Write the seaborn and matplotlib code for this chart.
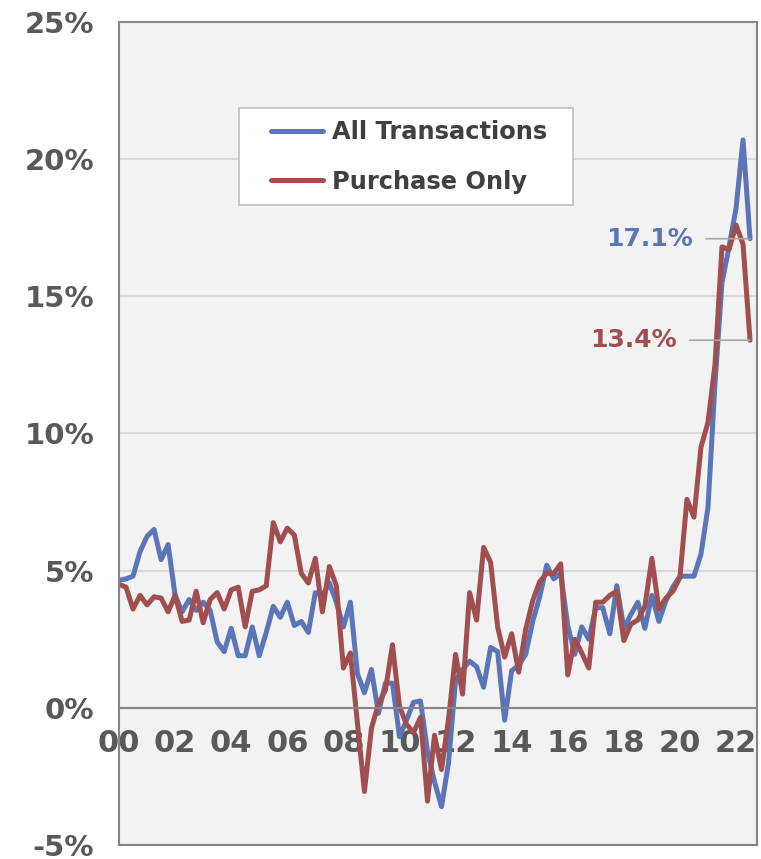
import matplotlib
matplotlib.use("Agg")
import matplotlib.pyplot as plt
from matplotlib.patches import Rectangle
import seaborn as sns
import pandas as pd
import numpy as np

# quarterly series, 2000 Q1 .. 2022 Q3 (percent change over 4 quarters)
start_year = 2000
all_transactions = [
    4.65, 4.7, 4.8, 5.7, 6.25, 6.5, 5.4, 5.95, 4.1, 3.5, 3.95, 3.55, 3.85, 3.55, 2.4, 2.05,
    2.9, 1.9, 1.9, 2.95, 1.9, 2.75, 3.7, 3.3, 3.85, 3.0, 3.15, 2.75, 4.2, 4.1, 4.55, 3.85,
    2.95, 3.85, 1.25, 0.55, 1.4, -0.2, 0.9, 0.9, -1.05, -0.45, 0.2, 0.25, -1.6, -2.7, -3.6, -2.0,
    1.0, 1.4, 1.7, 1.5, 0.75, 2.2, 2.05, -0.45, 1.35, 1.55, 1.95, 3.15, 4.05, 5.2, 4.7, 4.9,
    3.0, 1.95, 2.95, 2.5, 3.65, 3.65, 2.7, 4.45, 2.9, 3.4, 3.85, 2.9, 4.1, 3.15, 3.9, 4.4,
    4.8, 4.8, 4.8, 5.6, 7.3, 11.8, 15.5, 16.8, 18.2, 20.7, 17.1,
]
purchase_only = [
    4.5, 4.4, 3.6, 4.1, 3.75, 4.05, 4.0, 3.5, 4.1, 3.15, 3.2, 4.25, 3.1, 3.95, 4.2, 3.6,
    4.3, 4.4, 2.95, 4.25, 4.3, 4.45, 6.75, 6.05, 6.55, 6.3, 4.9, 4.55, 5.45, 3.5, 5.15, 4.45,
    1.45, 2.0, -0.55, -3.05, -0.75, 0.15, 0.65, 2.3, 0.05, -0.6, -0.9, -0.35, -3.4, -1.0, -2.25, -0.4,
    1.95, 0.5, 4.2, 3.2, 5.85, 5.3, 2.95, 1.85, 2.7, 1.3, 2.85, 3.9, 4.6, 4.9, 4.9, 5.25,
    1.2, 2.5, 2.0, 1.45, 3.85, 3.85, 4.1, 4.25, 2.45, 3.05, 3.2, 3.7, 5.45, 3.6, 4.0, 4.25,
    4.75, 7.6, 6.95, 9.5, 10.4, 12.5, 16.8, 16.7, 17.6, 16.9, 13.4,
]
series_names = ["All Transactions", "Purchase Only"]
series_colors = ["#5B75B8", "#A04E50"]
year_ticks = list(range(2000, 2023, 2))
year_labels = [f"{y % 100:02d}" for y in year_ticks]
pct_ticks = [-5, 0, 5, 10, 15, 20, 25]

n = len(all_transactions)
t = start_year + np.arange(n) / 4
df = pd.concat([
    pd.DataFrame({"t": t, "pct": all_transactions, "series": series_names[0]}),
    pd.DataFrame({"t": t, "pct": purchase_only, "series": series_names[1]}),
])

sns.set_style("white")
plt.rcParams["font.family"] = ["DejaVu Sans"]
grey = "#868686"
txt = "#595959"

fig = plt.figure(figsize=(7.61, 8.59), dpi=100)
ax = fig.add_axes([0.1564, 0.0163, 0.8384, 0.9581])
ax.set_facecolor("#F2F2F2")

sns.lineplot(data=df, x="t", y="pct", hue="series", hue_order=series_names,
             palette=series_colors, linewidth=3.6, ax=ax,
             solid_joinstyle="round", solid_capstyle="round")

ax.set_xlim(2000, 2022.75)
ax.set_ylim(-5, 25)
ax.set_xlabel("")
ax.set_ylabel("")

ax.set_yticks(pct_ticks)
ax.set_yticklabels([f"{v}%" for v in pct_ticks])
ax.set_xticks(year_ticks)
ax.set_xticklabels(year_labels)
ax.set_xticks(list(range(2001, 2023, 2)), minor=True)

ax.yaxis.grid(True, color="#D9D9D9", linewidth=1.5)
ax.set_axisbelow(True)

for s in ["left", "right", "top"]:
    ax.spines[s].set_visible(False)
ax.spines["bottom"].set_position(("data", 0))
ax.spines["bottom"].set_color(grey)
ax.spines["bottom"].set_linewidth(1.5)
ax.add_patch(Rectangle((0, 0), 1, 1, transform=ax.transAxes, fill=False,
                       edgecolor=grey, linewidth=1.5, clip_on=False, zorder=5))

ax.tick_params(axis="y", length=0, pad=18, labelsize=21, labelcolor=txt)
ax.tick_params(axis="x", which="major", direction="inout", length=13, width=1.4,
               color=grey, pad=9, labelsize=22, labelcolor=txt)
ax.tick_params(axis="x", which="minor", direction="out", length=5, width=1.4, color=grey)
for lab in ax.get_xticklabels() + ax.get_yticklabels():
    lab.set_fontweight("bold")

# legend: white box drawn separately so its padding matches the original
ax.add_patch(Rectangle((0.188, 0.7776), 0.524, 0.118, transform=ax.transAxes,
                       facecolor="white", edgecolor="#BFBFBF", linewidth=1.2, zorder=4))
leg = ax.legend(loc="center left", bbox_to_anchor=(0.238, 0.836), frameon=False,
                borderpad=0, borderaxespad=0, handlelength=2.15, handletextpad=0.4,
                labelspacing=1.04, prop={"weight": "bold", "size": 17.4})
leg.set_zorder(6)
for text in leg.get_texts():
    text.set_color("#404040")
for line in leg.get_lines():
    line.set_linewidth(3.6)

# end-point labels with leader lines
for vals, color, offset in [(all_transactions, series_colors[0], -41),
                            (purchase_only, series_colors[1], -53)]:
    ax.annotate(f"{vals[-1]:.1f}%", xy=(t[-1], vals[-1]), xytext=(offset, 0),
                textcoords="offset points", ha="right", va="center",
                fontsize=18, fontweight="bold", color=color,
                arrowprops=dict(arrowstyle="-", color="#A6A6A6", lw=1.2,
                                shrinkA=7, shrinkB=0))

fig.savefig("out.png", dpi=100)
